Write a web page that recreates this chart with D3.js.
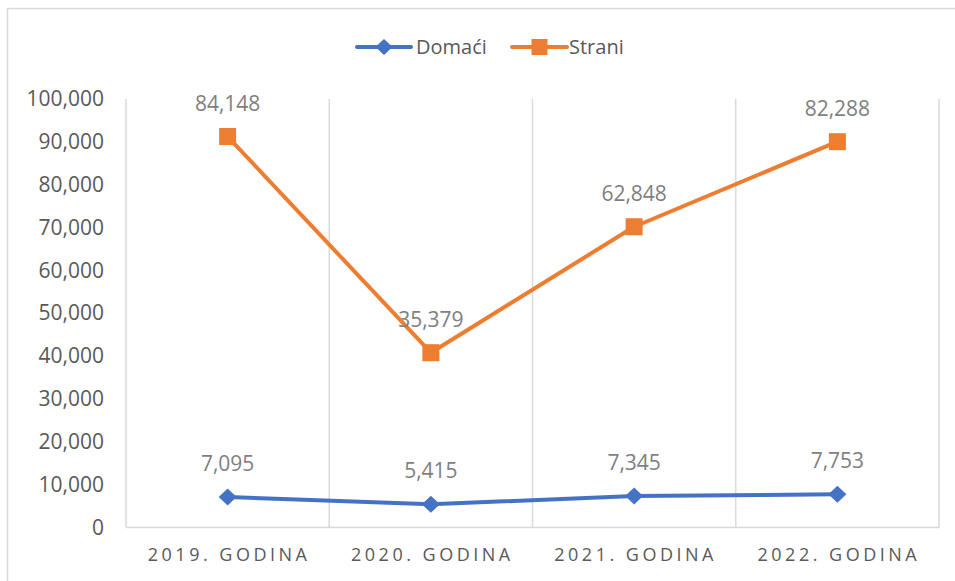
<!DOCTYPE html>
<html><head><meta charset="utf-8">
<script src="https://cdn.jsdelivr.net/npm/d3@7"></script>
<style>
html,body{margin:0;padding:0;background:#fff;}
svg{display:block;font-family:"Open Sans","Noto Sans",sans-serif;}
</style></head>
<body><svg id="c" width="955" height="581"></svg>
<script>
const categories = ["2019. GODINA","2020. GODINA","2021. GODINA","2022. GODINA"];
const domaci = [7095, 5415, 7345, 7753];
const strani = [84148, 35379, 62848, 82288];
const seriesNames = ["Domaći","Strani"];
const yTicks = [0,10000,20000,30000,40000,50000,60000,70000,80000,90000,100000];

const colors = {"Domaći":"#4472C4","Strani":"#ED7D31"};
const svg = d3.select("#c");
svg.append("rect").attr("x",7.5).attr("y",8.5).attr("width",1000).attr("height",600)
  .attr("fill","#fff").attr("stroke","#d9d9d9").attr("stroke-width",1.5);

const L=126, R=939, T=99, B=527.5;
const x = d3.scaleBand().domain(categories).range([L,R]).padding(0);
const y = d3.scaleLinear().domain([0,100000]).range([B,T]);

// table + stacked (Excel stacked line)
const table = categories.map((c,i)=>({cat:c,"Domaći":domaci[i],"Strani":strani[i]}));
const stacked = d3.stack().keys(seriesNames)(table);

// vertical gridlines at category boundaries
const edges = categories.map(c=>x(c)).concat([R]);
svg.append("g").selectAll("line").data(edges).join("line")
  .attr("x1",d=>d).attr("x2",d=>d).attr("y1",T).attr("y2",B)
  .attr("stroke","#d9d9d9").attr("stroke-width",1.5);
svg.append("line").attr("x1",L).attr("x2",R).attr("y1",B).attr("y2",B)
  .attr("stroke","#d9d9d9").attr("stroke-width",1.5);

// y axis labels
const yAxis = d3.axisLeft(y).tickValues(yTicks).tickFormat(d3.format(",")).tickSize(0).tickPadding(0);
const gy = svg.append("g").attr("transform","translate(104,0)").call(yAxis);
gy.select(".domain").remove();
gy.selectAll("text").attr("font-size","21px").attr("fill","#595959").attr("font-family","'Open Sans',sans-serif");

// x axis labels
const xAxis = d3.axisBottom(x).tickSize(0).tickPadding(0);
const gx = svg.append("g").attr("transform","translate(0,548)").call(xAxis);
gx.select(".domain").remove();
gx.selectAll("text").attr("font-size","18px").attr("fill","#595959")
  .attr("font-family","'Open Sans',sans-serif")
  .style("letter-spacing","3.5px").attr("dx","1.5px").attr("dy","0.7em");

const cx = c => x(c) + x.bandwidth()/2;
const line = d3.line().x(d=>cx(d.data.cat)).y(d=>y(d[1]));

stacked.forEach(s=>{
  const name = s.key;
  const g = svg.append("g");
  g.append("path").datum(s).attr("d",line).attr("fill","none")
    .attr("stroke",colors[name]).attr("stroke-width",4).attr("stroke-linejoin","round");
  if(name==="Domaći"){
    g.selectAll("path.m").data(s).join("path").attr("class","m")
      .attr("d",d=>{const px=cx(d.data.cat), py=y(d[1]);
        return `M${px},${py-8.5}L${px+9},${py}L${px},${py+8.5}L${px-9},${py}Z`;})
      .attr("fill",colors[name]);
  } else {
    g.selectAll("rect.m").data(s).join("rect").attr("class","m")
      .attr("x",d=>cx(d.data.cat)-8.5).attr("y",d=>y(d[1])-8.5)
      .attr("width",17).attr("height",17).attr("fill",colors[name]);
  }
  g.selectAll("text").data(s).join("text")
    .attr("x",d=>cx(d.data.cat)).attr("y",d=>y(d[1])-26)
    .attr("text-anchor","middle").attr("font-size","21px").attr("fill","#7f7f7f")
    .text(d=>d3.format(",")(d.data[name]));
});

// legend
const legendItems = [
  {name:"Domaći", x1:357, x2:411, tx:416},
  {name:"Strani", x1:512, x2:567, tx:569}
];
const lg = svg.append("g");
legendItems.forEach(it=>{
  const ly=47, mx=(it.x1+it.x2)/2;
  lg.append("line").attr("x1",it.x1).attr("x2",it.x2).attr("y1",ly).attr("y2",ly)
    .attr("stroke",colors[it.name]).attr("stroke-width",4).attr("stroke-linecap","round");
  if(it.name==="Domaći"){
    lg.append("path").attr("d",`M${mx},${ly-8}L${mx+8.5},${ly}L${mx},${ly+8}L${mx-8.5},${ly}Z`).attr("fill",colors[it.name]);
  } else {
    lg.append("rect").attr("x",mx-8).attr("y",ly-8).attr("width",16).attr("height",16).attr("fill",colors[it.name]);
  }
  lg.append("text").attr("x",it.tx).attr("y",ly).attr("dy","0.35em")
    .attr("font-size","20px").attr("fill","#595959").text(it.name);
});
</script></body></html>
